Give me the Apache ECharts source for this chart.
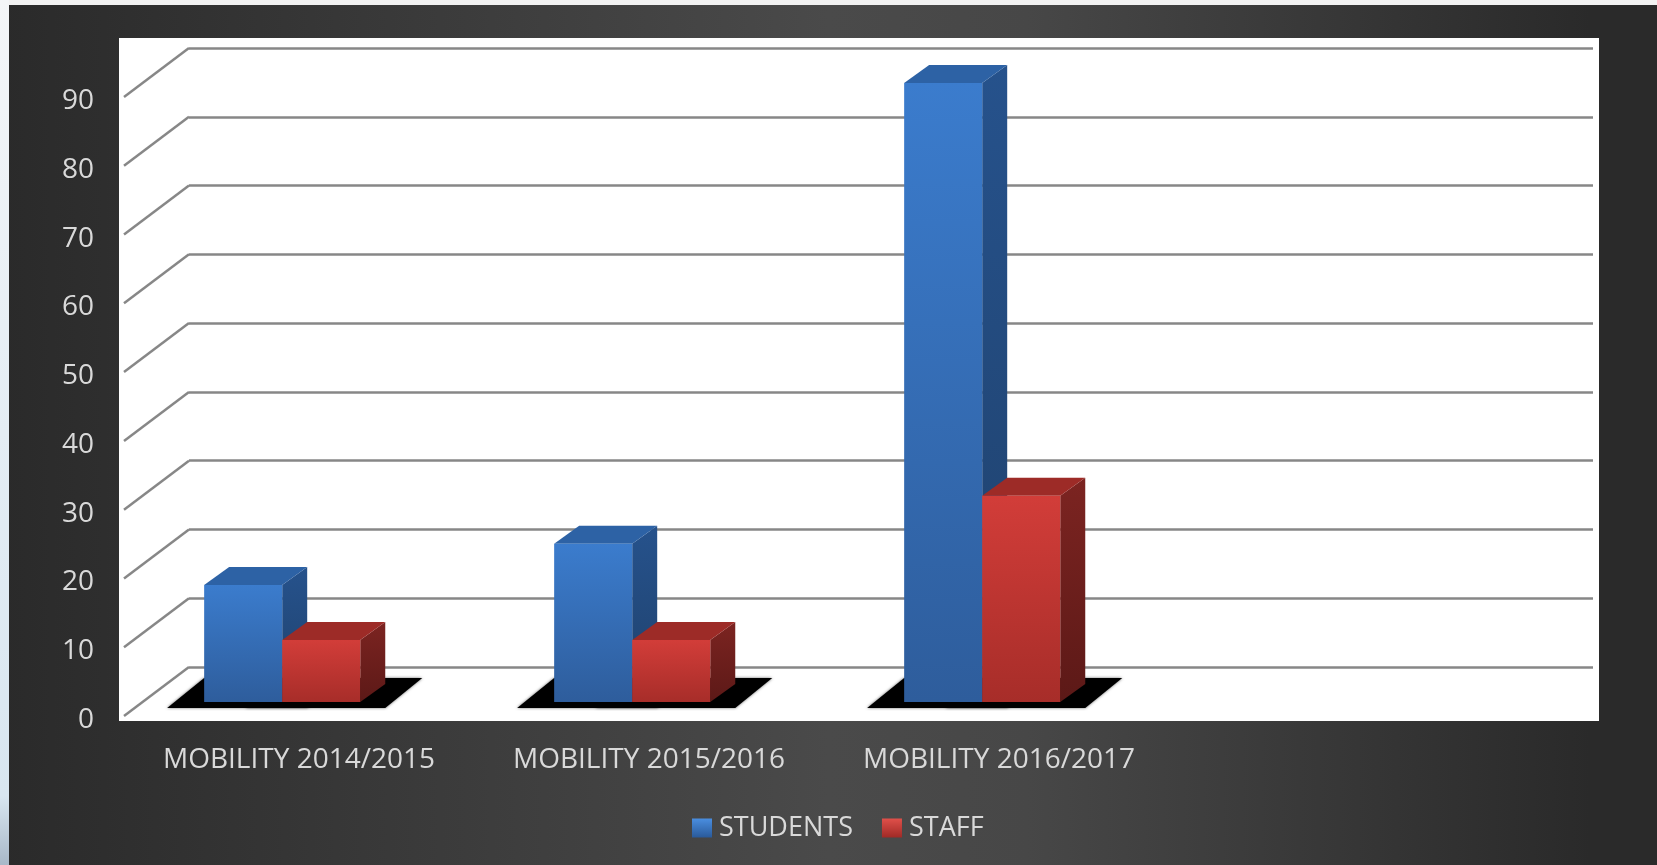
<!DOCTYPE html>
<html>
<head>
<meta charset="utf-8">
<script src="https://cdn.jsdelivr.net/npm/echarts@6/dist/echarts.min.js"></script>
<style>
html,body{margin:0;padding:0;background:#2b2b2b;}
#chart{width:1657px;height:865px;}
</style>
</head>
<body>
<div id="chart"></div>
<script>
// ---- data ----
const categories = ['MOBILITY 2014/2015', 'MOBILITY 2015/2016', 'MOBILITY 2016/2017', ''];
const seriesNames = ['STUDENTS', 'STAFF'];
const students = [17, 23, 90];
const staff = [9, 9, 30];
const yTicks = [0, 10, 20, 30, 40, 50, 60, 70, 80, 90];

// ---- layout / style constants ----
const WALL_DX = 65, WALL_DY = 49;       // depth of the back wall
const FRONT = {left: 124, top: 97, width: 1400, height: 619};
const BAR_W = 0.223, GROUP_OFF = 0.271; // fractions of band width
const LIFT = 14;                        // bar front face lift above front floor edge
const BAR_DX = 25, BAR_DY = 18;         // bar depth
const TXT = '#d9d9d9';
const FONT = 'Open Sans';

const barColors = [
  {front: ['#3b7ccd', '#2e5d9c'], top: '#2d62a5', side: ['#26528c', '#1f416c']},
  {front: ['#d23d39', '#a72d29'], top: '#9d2b27', side: ['#7c2421', '#5c1917']}
];

function barRender(k) {
  const c = barColors[k];
  return function (params, api) {
    const i = api.value(0), v = api.value(1);
    const base = api.coord([i, 0]);
    const top = api.coord([i, v]);
    const bw = api.size([1, 0])[0];
    const w = bw * BAR_W;
    const x0 = base[0] - bw * GROUP_OFF + k * w;
    const yb = base[1] - LIFT;
    const yt = top[1] - LIFT;
    return {
      type: 'group',
      children: [
        {type: 'polygon', z2: 0,
          shape: {points: [[x0 - 37, yb + 6], [x0 + w + 25, yb + 6], [x0 + w + 62, yb - 24], [x0, yb - 24]]},
          style: {fill: '#000', shadowBlur: 3, shadowColor: 'rgba(0,0,0,0.6)'}},
        {type: 'polygon', z2: 10,
          shape: {points: [[x0 + w, yt], [x0 + w + BAR_DX, yt - BAR_DY], [x0 + w + BAR_DX, yb - BAR_DY], [x0 + w, yb]]},
          style: {fill: new echarts.graphic.LinearGradient(0, 0, 0, 1, [{offset: 0, color: c.side[0]}, {offset: 1, color: c.side[1]}])}},
        {type: 'polygon', z2: 10,
          shape: {points: [[x0, yt], [x0 + w, yt], [x0 + w + BAR_DX, yt - BAR_DY], [x0 + BAR_DX, yt - BAR_DY]]},
          style: {fill: c.top}},
        {type: 'rect', z2: 10,
          shape: {x: x0, y: yt, width: w, height: yb - yt},
          style: {fill: new echarts.graphic.LinearGradient(0, 0, 0, 1, [{offset: 0, color: c.front[0]}, {offset: 1, color: c.front[1]}])}}
      ]
    };
  };
}

function diagRender(params, api) {
  const p = api.coord([0, api.value(1)]);
  const xb = params.coordSys.x;
  return {
    type: 'line',
    shape: {x1: xb - WALL_DX, y1: p[1] + WALL_DY, x2: xb, y2: p[1]},
    style: {stroke: '#878787', lineWidth: 2.5}
  };
}

const chart = echarts.init(document.getElementById('chart'));
chart.setOption({
  animation: false,
  backgroundColor: new echarts.graphic.LinearGradient(0, 0, 1, 0, [
    {offset: 0, color: '#2a2a2a'}, {offset: 0.5, color: '#4a4a4a'}, {offset: 0.62, color: '#474747'},
    {offset: 0.96, color: '#2a2a2a'}, {offset: 1, color: '#2a2a2a'}
  ]),
  graphic: [
    {type: 'rect', z: -10, shape: {x: 119, y: 38, width: 1480, height: 683}, style: {fill: '#ffffff'}},
    {type: 'rect', z: -10, shape: {x: 0, y: 0, width: 1657, height: 5}, style: {fill: '#f2f2f2'}},
    {type: 'rect', z: -10, shape: {x: 0, y: 0, width: 9, height: 865},
      style: {fill: new echarts.graphic.LinearGradient(0, 0, 0, 1, [
        {offset: 0, color: '#f4f6f8'}, {offset: 0.5, color: '#e4edf4'},
        {offset: 0.92, color: '#d8e6f0'}, {offset: 1, color: '#a8b8c8'}])}}
  ],
  grid: [
    {left: FRONT.left + WALL_DX, top: FRONT.top - WALL_DY, width: FRONT.width + 4, height: FRONT.height},
    {left: FRONT.left, top: FRONT.top, width: FRONT.width, height: FRONT.height}
  ],
  xAxis: [
    {type: 'category', gridIndex: 0, data: categories, show: false},
    {type: 'category', gridIndex: 1, data: categories,
      axisLine: {show: false}, axisTick: {show: false}, splitLine: {show: false},
      axisLabel: {color: TXT, fontFamily: FONT, fontSize: 28, lineHeight: 28, margin: 30, interval: 0}}
  ],
  yAxis: [
    {type: 'value', gridIndex: 0, min: 0, max: 90, interval: 10,
      axisLine: {show: false}, axisTick: {show: false}, axisLabel: {show: false},
      splitLine: {show: true, lineStyle: {color: '#878787', width: 2.5}}},
    {type: 'value', gridIndex: 1, min: 0, max: 90, interval: 10,
      axisLine: {show: false}, axisTick: {show: false}, splitLine: {show: false},
      axisLabel: {color: TXT, fontFamily: FONT, fontSize: 28, verticalAlign: 'top', lineHeight: 8, margin: 30}}
  ],
  legend: {
    left: 687, top: 809, itemWidth: 20, itemHeight: 19, itemGap: 29,
    icon: 'rect',
    textStyle: {color: TXT, fontFamily: FONT, fontSize: 27, lineHeight: 28, padding: [0, 0, 0, 2]},
    data: [
      {name: seriesNames[0], itemStyle: {color: new echarts.graphic.LinearGradient(0, 0, 0, 1, [{offset: 0, color: '#4a8ee0'}, {offset: 1, color: '#2a5a9a'}])}},
      {name: seriesNames[1], itemStyle: {color: new echarts.graphic.LinearGradient(0, 0, 0, 1, [{offset: 0, color: '#e0504a'}, {offset: 1, color: '#a02a26'}])}}
    ]
  },
  series: [
    {type: 'custom', name: 'walls', xAxisIndex: 0, yAxisIndex: 0, silent: true, z: 1,
      data: yTicks.map(t => [0, t]), renderItem: diagRender, clip: false},
    {type: 'custom', name: seriesNames[0], xAxisIndex: 1, yAxisIndex: 1, z: 3, clip: false,
      itemStyle: {color: '#3b7ccd'},
      data: students.map((v, i) => [i, v]), encode: {x: 0, y: 1}, renderItem: barRender(0)},
    {type: 'custom', name: seriesNames[1], xAxisIndex: 1, yAxisIndex: 1, z: 3, clip: false,
      itemStyle: {color: '#d23d39'},
      data: staff.map((v, i) => [i, v]), encode: {x: 0, y: 1}, renderItem: barRender(1)}
  ]
});
</script>
</body>
</html>
